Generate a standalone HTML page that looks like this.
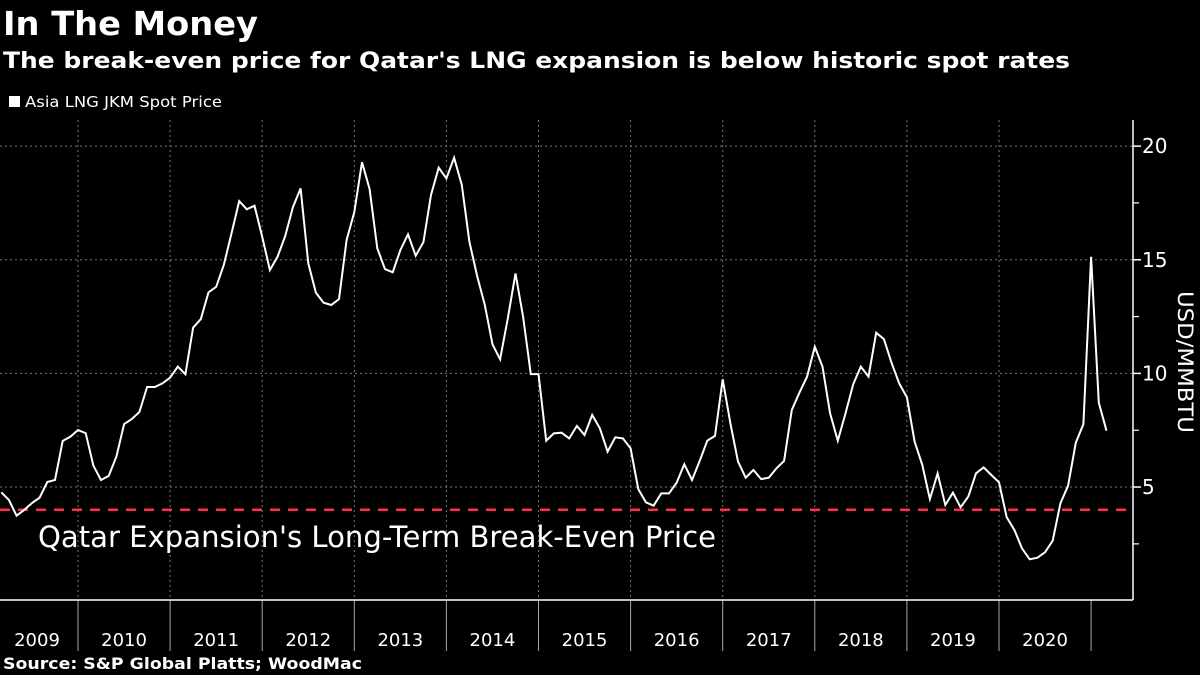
<!DOCTYPE html>
<html><head><meta charset="utf-8"><style>
html,body{margin:0;padding:0;background:#000;}
body{width:1200px;height:675px;overflow:hidden;font-family:"DejaVu Sans","Liberation Sans",sans-serif;color:#fff;}
svg{position:absolute;left:0;top:0;}
</style></head><body>
<svg id="chart" width="1200" height="675" viewBox="0 0 1200 675">
<text x="3" y="35" font-size="33" font-weight="bold" fill="#fff" textLength="255" lengthAdjust="spacingAndGlyphs">In The Money</text>
<text x="3" y="68" font-size="22" font-weight="bold" fill="#fff" textLength="1067" lengthAdjust="spacingAndGlyphs">The break-even price for Qatar's LNG expansion is below historic spot rates</text>
<g>
<rect x="9" y="96" width="11" height="11" fill="#fff"/>
<text x="25" y="107" font-size="15" fill="#fff" textLength="197" lengthAdjust="spacingAndGlyphs">Asia LNG JKM Spot Price</text>
</g>
<g id="grid"></g>
<g id="axes"></g>
<line id="breakeven" stroke="#ff2e4d" stroke-width="2.5" stroke-dasharray="10,8"/>
<text x="38" y="547" font-size="29" fill="#fff" textLength="678" lengthAdjust="spacingAndGlyphs">Qatar Expansion's Long-Term Break-Even Price</text>
<polyline id="series" fill="none" stroke="#fff" stroke-width="2" stroke-linejoin="miter"/>
<text transform="translate(1178,362) rotate(90)" text-anchor="middle" font-size="21" fill="#fff" textLength="142" lengthAdjust="spacingAndGlyphs">USD/MMBTU</text>
<text x="3" y="669" font-size="16" font-weight="bold" fill="#fff" textLength="359" lengthAdjust="spacingAndGlyphs">Source: S&amp;P Global Platts; WoodMac</text>
</svg>
<script>
const years = ["2009","2010","2011","2012","2013","2014","2015","2016","2017","2018","2019","2020"];
const yTicks = [5,10,15,20];
const minorTicks = [2.5,7.5,12.5,17.5];
const breakEven = [4];
const startMonthIndex = 2; // March 2009
const prices = [4.77,4.43,3.74,4.0,4.3,4.53,5.22,5.31,7.03,7.21,7.51,7.37,5.94,5.31,5.49,6.34,7.77,7.99,8.30,9.40,
9.40,9.56,9.81,10.30,9.96,12.01,12.39,13.57,13.81,14.77,16.16,17.58,17.22,17.38,16.01,14.55,15.13,16.04,17.31,18.14,
14.84,13.55,13.11,13.01,13.27,15.87,17.09,19.29,18.11,15.50,14.59,14.45,15.43,16.12,15.18,15.77,17.85,19.05,18.58,19.49,
18.29,15.79,14.29,13.01,11.28,10.62,12.42,14.40,12.49,9.97,9.97,7.04,7.36,7.39,7.14,7.69,7.29,8.17,7.58,6.56,
7.19,7.14,6.70,4.91,4.33,4.18,4.72,4.72,5.19,6.00,5.31,6.15,7.04,7.25,9.74,7.80,6.12,5.41,5.75,5.35,
5.41,5.82,6.15,8.39,9.15,9.86,11.18,10.30,8.24,7.04,8.24,9.52,10.30,9.86,11.79,11.51,10.47,9.56,8.95,7.00,
5.97,4.47,5.60,4.21,4.75,4.11,4.58,5.60,5.87,5.53,5.21,3.67,3.11,2.30,1.82,1.89,2.13,2.64,4.28,5.06,
6.95,7.77,15.13,8.71,7.48];

const NS = "http://www.w3.org/2000/svg";
const plotL = 0, plotR = 1133, plotT = 120, plotB = 600;
const monthW = 92.1/12;
const x0 = 78 - 12*monthW; // Jan 2009
function xMonth(m){ return x0 + m*monthW; }
function y(v){ return 600.7 - v*22.73; }
function mk(tag, attrs, parent){
  const el = document.createElementNS(NS, tag);
  for (const k in attrs) el.setAttribute(k, attrs[k]);
  parent.appendChild(el);
  return el;
}
const grid = document.getElementById('grid');
const axes = document.getElementById('axes');
yTicks.forEach(v => {
  const l = mk('line',{x1:plotL,x2:plotR,y1:y(v),y2:y(v),stroke:'#777','stroke-width':1,'stroke-dasharray':'2,3'},grid);
  
  
  const t = mk('line',{x1:plotR,x2:plotR+8,y1:y(v),y2:y(v),stroke:'#fff','stroke-width':1.5},axes);
  
  
  const lb = mk('text',{x:plotR+9,y:y(v)+7,'font-size':20,fill:'#fff'},axes);
  lb.textContent = v;
  
  
});
minorTicks.forEach(v => {
  const t = mk('line',{x1:plotR,x2:plotR+6,y1:y(v),y2:y(v),stroke:'#fff','stroke-width':1.2},axes);
  
  
});
years.forEach((yr,i) => {
  const xs = xMonth(i*12), xe = xMonth((i+1)*12);
  const sep = mk('line',{x1:xe,x2:xe,y1:plotB,y2:651,stroke:'#aaa','stroke-width':1},axes);
  
  
  if (i < years.length-1) {
    const g2 = mk('line',{x1:xe,x2:xe,y1:plotT,y2:plotB,stroke:'#777','stroke-width':1,'stroke-dasharray':'2,3'},grid);
    
    
  }
  const lb = mk('text',{x:(Math.max(xs,0)+xe)/2 + (i===0?-2:0),y:646,'font-size':18,fill:'#fff','text-anchor':'middle'},axes);
  lb.textContent = yr;
  
  
});
const ax = mk('line',{x1:plotL,x2:plotR,y1:plotB,y2:plotB,stroke:'#fff','stroke-width':1.5},axes);


const ay = mk('line',{x1:plotR,x2:plotR,y1:plotT,y2:plotB,stroke:'#fff','stroke-width':1.5},axes);



const be = document.getElementById('breakeven');
be.setAttribute('x1', plotL); be.setAttribute('x2', plotR);
be.setAttribute('y1', y(breakEven[0])); be.setAttribute('y2', y(breakEven[0]));

document.getElementById('series').setAttribute('points',
  prices.map((v,i) => xMonth(startMonthIndex+i).toFixed(1)+','+y(v).toFixed(1)).join(' '));
</script>
</body></html>
